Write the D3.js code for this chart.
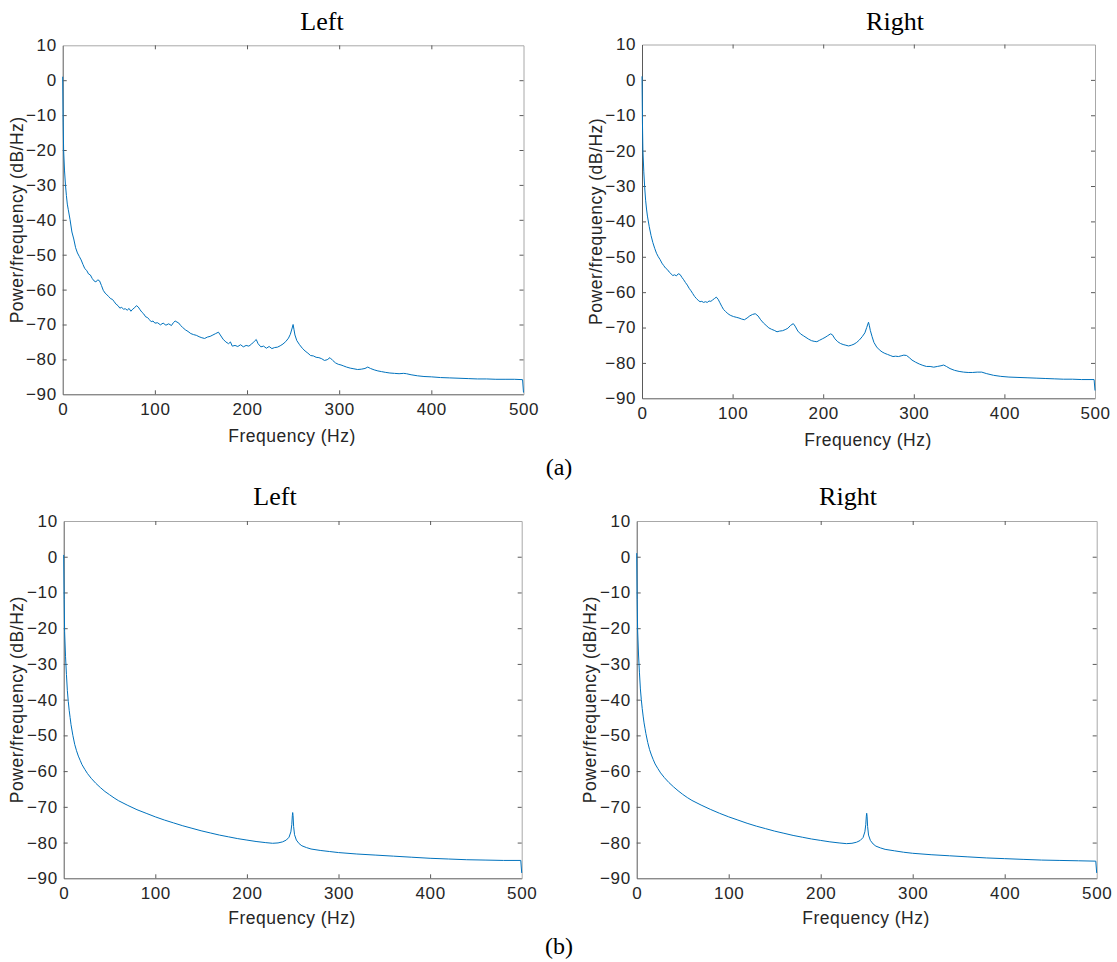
<!DOCTYPE html>
<html>
<head>
<meta charset="utf-8">
<script src="https://cdn.jsdelivr.net/npm/d3@7"></script>
<style>
  body { margin: 0; background: #fff; }
  svg { display: block; }
</style>
</head>
<body>
<svg id="chart" width="1117" height="962"></svg>
<script>
// ---------- DATA ----------
const xTicks = [0, 100, 200, 300, 400, 500];
const yTicks = [10, 0, -10, -20, -30, -40, -50, -60, -70, -80, -90];
const panelTitles = ["Left", "Right", "Left", "Right"];
const groupLabels = ["(a)", "(b)"];

// (a) Left
const aLeftFreq = [0,0.5,1,2,3,4,5,6,8,10,12,14,16,18,20,22,24,26,28,30,32,34,36,38,40,42,44,46,48,50,52,54,56,58,60,62,64,66,68,70,72,74,76,78,80,82,84,86,88,90,92,94,96,98,100,103,106,109,112,115,118,120,122,124,126,128,130,133,136,139,142,145,148,151,154,157,160,163,166,169,171,174,177,180,182,184,187,190,193,196,199,202,205,208,210,212,215,218,221,224,227,230,233,236,239,242,245,247,249,250,251,252,254,257,260,263,266,269,272,275,278,281,284,287,290,293,296,299,302,305,308,312,316,320,324,328,331,334,338,342,346,350,355,360,365,370,373,378,385,392,400,410,420,430,440,450,460,470,480,490,499,500];
const aLeftPower = [1,-12,-20,-26,-30,-33,-35.5,-37,-40,-43.5,-45.5,-48,-49.5,-50.5,-51.5,-52.8,-54,-54.5,-55.5,-55.8,-56.8,-57.5,-57.8,-57.2,-57.5,-58.8,-60.2,-61,-61.5,-62,-62.6,-62.8,-63.5,-64.2,-64.6,-65.3,-65.1,-65.6,-65.5,-65.9,-65.4,-66.2,-65.6,-65.2,-64.6,-65.0,-65.8,-66.5,-67.0,-67.8,-68.0,-68.6,-69.2,-69.0,-69.6,-69.5,-70.1,-69.6,-70.2,-69.8,-70.3,-69.5,-69.0,-69.3,-69.6,-70.3,-70.8,-71.5,-72.0,-72.6,-72.9,-73.1,-73.5,-73.8,-74.0,-73.6,-73.4,-73.0,-72.6,-72.2,-73.0,-74.2,-75.0,-75.5,-75.0,-76.2,-76.0,-76.3,-75.8,-76.4,-76.0,-76.2,-75.6,-74.8,-74.3,-75.5,-76.4,-76.2,-76.8,-76.3,-76.9,-76.6,-76.5,-76.1,-75.6,-74.9,-73.9,-72.8,-71.0,-70.0,-71.5,-73.0,-74.6,-75.8,-76.8,-77.6,-78.2,-78.9,-79.0,-79.4,-79.5,-79.8,-80.3,-80.1,-79.5,-80.3,-81.0,-81.4,-81.6,-81.9,-82.2,-82.5,-82.7,-82.9,-82.8,-82.6,-82.2,-82.6,-83.0,-83.3,-83.5,-83.7,-83.9,-84.0,-84.1,-84.0,-84.1,-84.4,-84.7,-84.9,-85.0,-85.2,-85.3,-85.4,-85.5,-85.6,-85.6,-85.7,-85.7,-85.7,-85.8,-89.5];

// (a) Right
const aRightFreq = [0,0.5,1,2,3,4,5,6,8,10,12,14,16,18,20,22,24,26,28,30,32,34,36,38,40,42,44,46,48,50,52,54,56,58,60,62,64,66,68,70,72,74,76,78,80,82,84,86,88,90,92,94,96,98,101,104,107,110,113,116,119,122,125,128,131,134,137,140,143,146,149,152,155,158,161,164,167,169,172,175,178,181,184,187,190,193,196,199,202,205,208,210,213,216,219,222,225,228,231,234,237,240,243,246,248,250,251,252,254,256,259,262,265,268,271,274,277,280,283,286,289,292,295,298,302,306,310,314,318,322,326,330,333,336,340,345,350,355,360,365,370,375,380,388,396,405,415,425,435,445,455,465,475,485,499,500];
const aRightPower = [1,-12,-19.8,-26,-30.5,-34,-36.5,-38.5,-41.5,-44,-46,-47.6,-49,-50,-50.8,-51.8,-52.5,-53.2,-53.6,-54.3,-54.8,-55.3,-55.1,-55.4,-54.8,-55.0,-55.8,-56.5,-57.3,-58.0,-58.9,-59.6,-60.4,-61.2,-61.8,-62.3,-62.7,-62.6,-62.9,-62.7,-62.9,-62.5,-62.6,-62.2,-61.8,-61.4,-62.0,-63.0,-64.0,-64.9,-65.4,-65.9,-66.3,-66.6,-66.9,-67.1,-67.3,-67.6,-67.8,-67.3,-66.7,-66.3,-66.1,-66.7,-67.8,-68.7,-69.4,-70.1,-70.5,-70.8,-71.2,-71.0,-70.9,-70.6,-70.2,-69.4,-68.9,-69.6,-71.0,-71.8,-72.3,-72.8,-73.3,-73.7,-73.9,-74.0,-73.6,-73.2,-72.8,-72.3,-71.8,-72.0,-73.2,-74.0,-74.5,-74.8,-75.0,-75.2,-75.0,-74.7,-74.2,-73.5,-72.6,-71.5,-70.0,-68.5,-69.5,-70.8,-72.6,-74.2,-75.5,-76.3,-76.9,-77.3,-77.6,-77.9,-78.2,-78.1,-78.2,-78.0,-77.8,-77.9,-78.5,-79.2,-79.8,-80.3,-80.7,-81.0,-81.0,-81.2,-81.0,-80.8,-80.6,-81.0,-81.6,-82.1,-82.4,-82.6,-82.7,-82.7,-82.6,-82.6,-83.0,-83.5,-83.8,-84.0,-84.1,-84.2,-84.3,-84.4,-84.5,-84.6,-84.6,-84.7,-84.7,-87.8];

// (b) Left
const bLeftFreq = [0,0.5,1,2,3,4,5,6,7,8,9,10,12,14,16,18,20,23,26,30,35,40,45,50,55,60,70,80,90,100,110,120,130,140,150,160,170,180,190,200,210,220,228,234,239,243,246,248,249,249.6,250,250.4,251,252,254,257,260,265,270,280,290,300,320,340,360,380,400,420,440,460,480,499,500];
const bLeftPower = [0.5,-12,-21,-28,-33,-37.5,-40.5,-43,-45,-47,-48.5,-50,-52.5,-54.3,-55.8,-57,-58.2,-59.5,-60.7,-62.0,-63.4,-64.6,-65.7,-66.6,-67.5,-68.3,-69.6,-70.8,-71.8,-72.8,-73.7,-74.5,-75.3,-76.0,-76.7,-77.3,-77.9,-78.4,-78.9,-79.3,-79.7,-80.0,-80.2,-80.1,-79.8,-79.3,-78.5,-77.0,-75.0,-72.5,-71.6,-72.5,-75.5,-77.8,-79.3,-80.3,-80.9,-81.4,-81.8,-82.2,-82.5,-82.8,-83.2,-83.5,-83.8,-84.1,-84.4,-84.6,-84.8,-84.9,-85.0,-85.0,-88.5];

// (b) Right
const bRightFreq = [0,0.5,1,2,3,4,5,6,7,8,9,10,12,14,16,18,20,23,26,30,35,40,45,50,55,60,70,80,90,100,110,120,130,140,150,160,170,180,190,200,210,220,228,234,239,243,246,248,249,249.6,250,250.4,251,252,254,257,260,265,270,280,290,300,320,340,360,380,400,420,440,460,480,499,500];
const bRightPower = [1,-12,-20.5,-27.5,-32.5,-37,-40,-42.5,-44.6,-46.5,-48,-49.5,-52,-54,-55.5,-56.8,-58,-59.3,-60.5,-61.8,-63.2,-64.4,-65.5,-66.5,-67.4,-68.2,-69.5,-70.7,-71.8,-72.8,-73.7,-74.6,-75.4,-76.1,-76.8,-77.4,-78.0,-78.5,-79.0,-79.4,-79.8,-80.1,-80.3,-80.2,-79.9,-79.4,-78.6,-77.0,-75.0,-72.6,-71.8,-72.6,-75.5,-77.9,-79.4,-80.4,-81.0,-81.5,-81.9,-82.3,-82.7,-83.0,-83.4,-83.7,-84.0,-84.3,-84.5,-84.7,-84.9,-85.0,-85.1,-85.2,-88.5];

const series = [
  {f: aLeftFreq, p: aLeftPower},
  {f: aRightFreq, p: aRightPower},
  {f: bLeftFreq, p: bLeftPower},
  {f: bRightFreq, p: bRightPower}
];

// ---------- LAYOUT ----------
const panels = [
  {x0: 62.7, x1: 523.5, y0: 45.3, y1: 394.3, titleX: 322, titleY: 30, xlabX: 292, xlabY: 442, ylabX: 23},
  {x0: 642, x1: 1095, y0: 44.5, y1: 398.3, titleX: 895, titleY: 30, xlabX: 868, xlabY: 446, ylabX: 602},
  {x0: 63.7, x1: 521.7, y0: 521, y1: 878.3, titleX: 275, titleY: 505, xlabX: 292, xlabY: 924, ylabX: 23},
  {x0: 636.7, x1: 1096.7, y0: 521, y1: 878.3, titleX: 848, titleY: 505, xlabX: 866, xlabY: 924, ylabX: 596}
];

const svg = d3.select("#chart");
const lineColor = "#0072BD";
const axisDark = "#5a5a5a";
const axisLight = "#a8a8a8";
const textColor = "#262626";
const sans = "Arial, 'Liberation Sans', Helvetica, sans-serif";
const serif = "'Times New Roman', 'Liberation Serif', Times, serif";

panels.forEach((pn, i) => {
  const x = d3.scaleLinear().domain([0, 500]).range([pn.x0, pn.x1]);
  const y = d3.scaleLinear().domain([-90, 10]).range([pn.y1, pn.y0]);
  const g = svg.append("g");

  const tl = 4;
  const bottomAx = g.append("g").attr("transform", `translate(0,${pn.y1})`)
    .call(d3.axisBottom(x).tickValues(xTicks).tickSize(-tl).tickPadding(9).tickSizeOuter(0));
  const topAx = g.append("g").attr("transform", `translate(0,${pn.y0})`)
    .call(d3.axisTop(x).tickValues(xTicks).tickSize(-tl).tickFormat("").tickSizeOuter(0));
  const leftAx = g.append("g").attr("transform", `translate(${pn.x0},0)`)
    .call(d3.axisLeft(y).tickValues(yTicks).tickSize(-tl).tickPadding(6).tickSizeOuter(0));
  const rightAx = g.append("g").attr("transform", `translate(${pn.x1},0)`)
    .call(d3.axisRight(y).tickValues(yTicks).tickSize(-tl).tickFormat("").tickSizeOuter(0));

  [bottomAx, leftAx].forEach(a => {
    a.select(".domain").attr("stroke", axisDark).attr("stroke-width", 1);
    a.selectAll(".tick line").attr("stroke", axisDark);
    a.selectAll("text").attr("fill", textColor).style("font-family", sans)
      .style("font-size", "17px").style("letter-spacing", "0.6px");
  });
  [topAx, rightAx].forEach(a => {
    a.select(".domain").attr("stroke", axisLight).attr("stroke-width", 1);
    a.selectAll(".tick line").attr("stroke", axisDark);
  });
  [bottomAx, topAx].forEach(a => a.selectAll(".tick line").filter(d => d === 0 || d === 500).remove());
  [leftAx, rightAx].forEach(a => a.selectAll(".tick line").filter(d => d === 10 || d === -90).remove());

  const s = series[i];
  const pts = s.f.map((f, k) => [f, s.p[k]]);
  g.append("path")
    .datum(pts)
    .attr("fill", "none")
    .attr("stroke", lineColor)
    .attr("stroke-width", 1)
    .attr("stroke-linejoin", "round")
    .attr("d", d3.line().x(d => x(d[0])).y(d => y(d[1])));

  g.append("text").attr("x", pn.titleX).attr("y", pn.titleY)
    .attr("text-anchor", "middle").style("font-family", serif).style("font-size", "26px")
    .attr("fill", "#000").text(panelTitles[i]);

  g.append("text").attr("x", pn.xlabX).attr("y", pn.xlabY)
    .attr("text-anchor", "middle").style("font-family", sans).style("font-size", "17.5px")
    .style("letter-spacing", "0.5px")
    .attr("fill", textColor).text("Frequency (Hz)");

  const cy = (pn.y0 + pn.y1) / 2;
  g.append("text").attr("transform", `translate(${pn.ylabX},${cy}) rotate(-90)`)
    .attr("text-anchor", "middle").style("font-family", sans).style("font-size", "17.5px")
    .style("letter-spacing", "0.5px")
    .attr("fill", textColor).text("Power/frequency (dB/Hz)");
});

svg.append("text").attr("x", 559).attr("y", 475).attr("text-anchor", "middle")
  .style("font-family", serif).style("font-size", "24px").attr("fill", "#000").text(groupLabels[0]);
svg.append("text").attr("x", 559).attr("y", 954).attr("text-anchor", "middle")
  .style("font-family", serif).style("font-size", "24px").attr("fill", "#000").text(groupLabels[1]);
</script>
</body>
</html>
